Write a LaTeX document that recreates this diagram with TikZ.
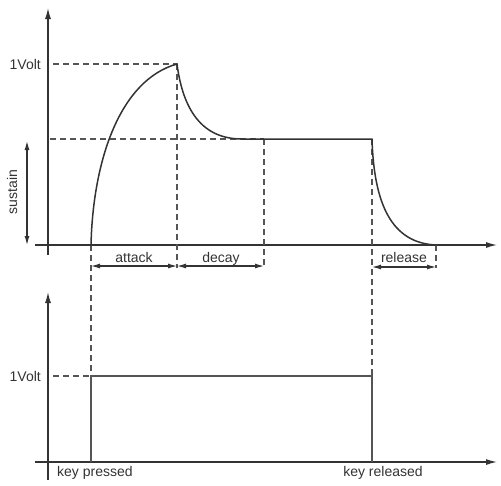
\documentclass[tikz,border=0pt]{standalone}
\usepackage{fontspec}
\setmainfont{Liberation Sans}
\usetikzlibrary{arrows.meta,positioning,calc}
\definecolor{courbe}{HTML}{333333}
\definecolor{repere}{HTML}{555555}

\begin{document}
\begin{tikzpicture}[x=1pt,y=-1pt,
    axe/.style       = {line width=1.3pt,courbe,-{Latex[length=11pt,width=6pt]}},
    signal/.style    = {line width=1.5pt,courbe},
    porte/.style     = {line width=1.2pt,repere},
    guide/.style     = {line width=1.2pt,repere,dash pattern=on 6pt off 4pt},
    cote/.style      = {line width=1.1pt,courbe,
                        {Latex[length=9pt,width=5pt]}-{Latex[length=9pt,width=5pt]}},
    etiquette/.style = {font=\fontsize{14}{16}\selectfont,text=courbe,inner sep=0pt},
  ]
  \useasboundingbox (0,0) rectangle (501,485);

  % Points clés de l'enveloppe
  \coordinate (debut)   at (91,245);
  \coordinate (crete)   at (177,64);
  \coordinate (palier)  at (264,139);
  \coordinate (relache) at (372,139);
  \coordinate (fin)     at (436,245);

  % Repère du haut
  \draw[axe] (48,255) -- (48,8);
  \draw[axe] (35,245) -- (497,245);
  \node[etiquette,anchor=east] (volthaut) at (41,64) {1Volt};

  % Lignes de rappel
  \draw[guide] ([xshift=12pt]volthaut.east) -- (crete);
  \draw[guide] (50,139) -- (palier);
  \draw[guide] (crete)   -- (177,268);
  \draw[guide] (palier)  -- (264,268);
  \draw[guide] (fin)     -- (436,268);
  \draw[guide] (debut)   -- (91,376);
  \draw[guide] (relache) -- (372,376);

  % Enveloppe ADSR
  \draw[signal] (35,245) -- (debut)
      .. controls (93,160) and (120,80) .. (crete)
      .. controls (183,110) and (202,139) .. (242,139) -- (relache)
      .. controls (374,205) and (392,243) .. (fin);

  % Cotes des phases
  \draw[cote] (27,141) -- (27,245);
  \node[etiquette,rotate=90] (maintien) at (12,192) {sustain};
  \draw[cote] (91,266)  -- (177,266);
  \node[etiquette,anchor=base] (attaque) at (134,262) {attack};
  \draw[cote] (177,266) -- (264,266);
  \node[etiquette,anchor=base] (declin) at (221,262) {decay};
  \draw[cote] (372,267) -- (436,267);
  \node[etiquette,anchor=base] (extinction) at (404,262) {release};

  % Repère du bas : gate
  \draw[axe] (48,480) -- (48,292);
  \draw[axe] (35,462) -- (497,462);
  \node[etiquette,anchor=east] (voltbas) at (41,376) {1Volt};
  \coordinate (appui) at (91,376);
  \coordinate (lacher) at (372,376);
  \draw[guide] ([xshift=12pt]voltbas.east) -- (appui);
  \draw[porte] (91,462) -- (appui) -- (lacher) -- (372,462);
  \node[etiquette,anchor=base west] (pressee) at (57,476) {key pressed};
  \node[etiquette,anchor=base] (relachee) at (383,476) {key released};

\end{tikzpicture}
\end{document}
